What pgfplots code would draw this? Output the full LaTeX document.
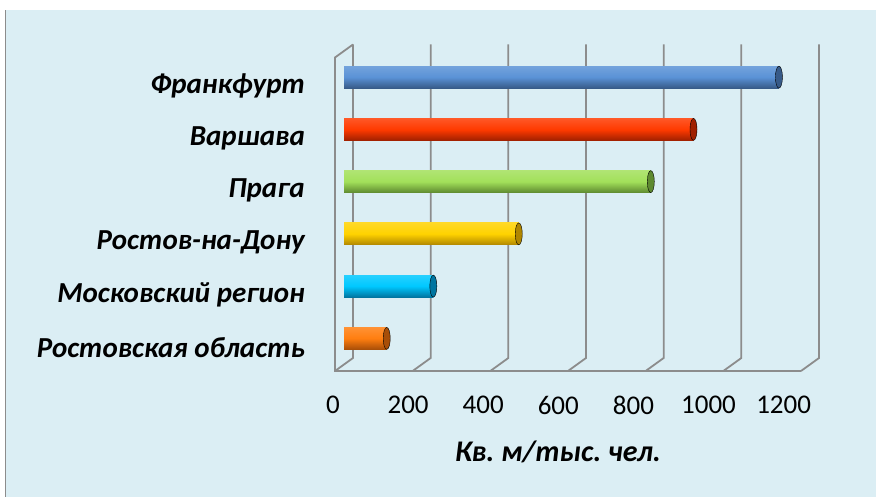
\documentclass[border=0pt]{standalone}
\usepackage{pgfplots}
\pgfplotsset{compat=1.18}
\usepackage{fontspec}
\setmainfont{Carlito}
\frenchspacing
\definecolor{bg}{HTML}{DBEEF4}
\definecolor{gridc}{HTML}{8C8C8C}
\definecolor{c1}{HTML}{5A92D6}\definecolor{c1d}{HTML}{375A88}
\definecolor{c2}{HTML}{FF3A00}\definecolor{c2d}{HTML}{A02000}
\definecolor{c3}{HTML}{A2E05A}\definecolor{c3d}{HTML}{5E8A30}
\definecolor{c4}{HTML}{FFD200}\definecolor{c4d}{HTML}{B08600}
\definecolor{c5}{HTML}{00C8FF}\definecolor{c5d}{HTML}{0075A0}
\definecolor{c6}{HTML}{FF7E10}\definecolor{c6d}{HTML}{A84E08}
\begin{document}
\begin{tikzpicture}[x=1bp,y=1bp]
\fill[white] (0,0) rectangle (876,497);
\fill[bg] (6,0) rectangle (876,487);
\draw[gridc, line width=1.2bp] (5.5,0) -- (5.5,487);
\begin{axis}[
  at={(344bp,132.5bp)}, anchor=south west,
  scale only axis, width=466bp, height=313.5bp,
  xmin=0, xmax=1200, ymin=-0.5, ymax=5.5,
  axis line style={draw=none}, tick style={draw=none},
  clip=false,
  xtick={0,200,400,600,800,1000,1200},
  ytick={0,1,2,3,4,5},
  yticklabels={Ростовская область, Московский регион, Ростов-на-Дону, Прага, Варшава, Франкфурт},
  /pgf/number format/assume math mode=true,
  /pgf/number format/1000 sep={},
  xticklabel style={font=\fontsize{27bp}{32bp}\selectfont, anchor=center, yshift=-40.5bp, xshift={-11bp-0.0128bp*\tick}},
  yticklabel style={font=\fontsize{29bp}{34bp}\selectfont\bfseries\itshape, anchor=east, inner sep=0pt, xshift=-39bp, yshift=-9bp},
  xlabel={Кв. м/тыс. чел.},
  xlabel style={font=\fontsize{30bp}{36bp}\selectfont\bfseries\itshape, at={(axis description cs:0.5,0)}, anchor=center, yshift=-87.5bp, xshift=-19bp},
]
% 3D frame (decoration)
\pgfplotsinvokeforeach{0,200,400,600,800,1000,1200}{
  \draw[gridc, line width=1.8bp] ([shift={(9bp,6.5bp)}]axis cs:#1,5.5) -- ([shift={(9bp,6.5bp)}]axis cs:#1,-0.5) -- ([shift={(-9bp,-6.5bp)}]axis cs:#1,-0.5);
}
\draw[gridc, line width=1.8bp] ([shift={(-9bp,-6.5bp)}]axis cs:1200,-0.5) -- ([shift={(-9bp,-6.5bp)}]axis cs:0,-0.5) -- ([shift={(-9bp,-6.5bp)}]axis cs:0,5.5) -- ([shift={(9bp,6.5bp)}]axis cs:0,5.5);

\addplot[xbar, bar width=22bp, bar shift=0pt, draw=none, top color=c1!85!white, bottom color=c1d, middle color=c1] coordinates {(1120,5)};
\addplot[only marks, mark=*, mark size=11bp, mark options={xscale=0.32, fill=c1d, draw=none}] coordinates {(1120,5)};
\addplot[xbar, bar width=22bp, bar shift=0pt, draw=none, top color=c2!85!white, bottom color=c2d, middle color=c2] coordinates {(900,4)};
\addplot[only marks, mark=*, mark size=11bp, mark options={xscale=0.32, fill=c2d, draw=none}] coordinates {(900,4)};
\addplot[xbar, bar width=22bp, bar shift=0pt, draw=none, top color=c3!85!white, bottom color=c3d, middle color=c3] coordinates {(790,3)};
\addplot[only marks, mark=*, mark size=11bp, mark options={xscale=0.32, fill=c3d, draw=none}] coordinates {(790,3)};
\addplot[xbar, bar width=22bp, bar shift=0pt, draw=none, top color=c4!85!white, bottom color=c4d, middle color=c4] coordinates {(450,2)};
\addplot[only marks, mark=*, mark size=11bp, mark options={xscale=0.32, fill=c4d, draw=none}] coordinates {(450,2)};
\addplot[xbar, bar width=22bp, bar shift=0pt, draw=none, top color=c5!85!white, bottom color=c5d, middle color=c5] coordinates {(230,1)};
\addplot[only marks, mark=*, mark size=11bp, mark options={xscale=0.32, fill=c5d, draw=none}] coordinates {(230,1)};
\addplot[xbar, bar width=22bp, bar shift=0pt, draw=none, top color=c6!85!white, bottom color=c6d, middle color=c6] coordinates {(110,0)};
\addplot[only marks, mark=*, mark size=11bp, mark options={xscale=0.32, fill=c6d, draw=none}] coordinates {(110,0)};
\end{axis}
\end{tikzpicture}
\end{document}
